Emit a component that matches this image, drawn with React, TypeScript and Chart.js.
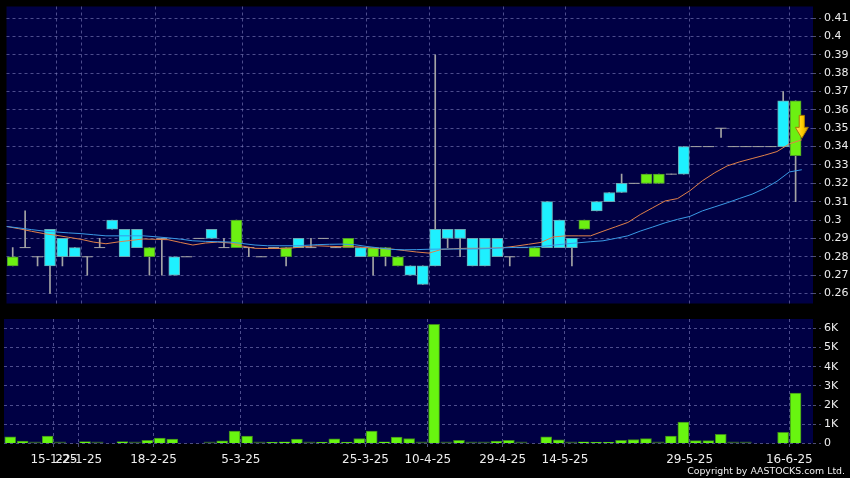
import React, { useEffect, useRef } from 'react';
import { Chart, registerables } from 'chart.js';

Chart.register(...registerables);

// ---- data (one entry per traded day, left to right) ----
const openPrices = [
  0.28, 0.285, 0.28, 0.275, 0.28, 0.28, 0.28, 0.285, 0.295, 0.28,
  0.285, 0.285, 0.29, 0.27, 0.28, 0.29, 0.29, 0.285, 0.3, 0.285,
  0.28, 0.285, 0.285, 0.285, 0.285, 0.29, 0.285, 0.29, 0.28, 0.285,
  0.285, 0.28, 0.27, 0.265, 0.275, 0.29, 0.29, 0.275, 0.275, 0.28,
  0.28, 0.285, 0.285, 0.285, 0.285, 0.285, 0.3, 0.305, 0.31, 0.315,
  0.32, 0.325, 0.325, 0.325, 0.325, 0.34, 0.34, 0.35, 0.34, 0.34,
  0.34, 0.34, 0.34, 0.365,
];
const closePrices = [
  0.275, 0.285, 0.28, 0.295, 0.29, 0.285, 0.28, 0.285, 0.3, 0.295,
  0.295, 0.28, 0.29, 0.28, 0.28, 0.29, 0.295, 0.285, 0.285, 0.285,
  0.28, 0.285, 0.28, 0.29, 0.285, 0.29, 0.285, 0.285, 0.285, 0.28,
  0.28, 0.275, 0.275, 0.275, 0.295, 0.295, 0.295, 0.29, 0.29, 0.29,
  0.28, 0.285, 0.28, 0.31, 0.3, 0.29, 0.295, 0.31, 0.315, 0.32,
  0.32, 0.32, 0.32, 0.325, 0.34, 0.34, 0.34, 0.35, 0.34, 0.34,
  0.34, 0.34, 0.365, 0.335,
];
const highPrices = [
  0.285, 0.305, 0.28, 0.295, 0.29, 0.285, 0.28, 0.29, 0.3, 0.295,
  0.295, 0.285, 0.29, 0.28, 0.28, 0.29, 0.295, 0.29, 0.3, 0.285,
  0.28, 0.285, 0.285, 0.29, 0.29, 0.29, 0.285, 0.29, 0.285, 0.285,
  0.285, 0.28, 0.275, 0.275, 0.39, 0.295, 0.295, 0.29, 0.29, 0.29,
  0.28, 0.285, 0.285, 0.31, 0.3, 0.29, 0.3, 0.31, 0.315, 0.325,
  0.32, 0.325, 0.325, 0.325, 0.34, 0.34, 0.34, 0.35, 0.34, 0.34,
  0.34, 0.34, 0.37, 0.365,
];
const lowPrices = [
  0.275, 0.285, 0.275, 0.26, 0.275, 0.28, 0.27, 0.285, 0.295, 0.28,
  0.285, 0.27, 0.27, 0.27, 0.28, 0.29, 0.29, 0.285, 0.285, 0.28,
  0.28, 0.285, 0.275, 0.285, 0.285, 0.29, 0.285, 0.285, 0.28, 0.27,
  0.275, 0.275, 0.27, 0.265, 0.275, 0.285, 0.28, 0.275, 0.275, 0.28,
  0.275, 0.285, 0.28, 0.285, 0.285, 0.275, 0.295, 0.305, 0.31, 0.315,
  0.32, 0.32, 0.32, 0.325, 0.325, 0.34, 0.34, 0.345, 0.34, 0.34,
  0.34, 0.34, 0.34, 0.31,
];
const volumes = [
  350, 120, 40, 380, 40, 0, 100, 50, 0, 100,
  40, 170, 280, 230, 0, 0, 30, 140, 650, 380,
  40, 60, 90, 230, 30, 70, 240, 70, 260, 650,
  90, 330, 260, 30, 6200, 30, 160, 40, 50, 120,
  160, 40, 0, 350, 190, 30, 90, 60, 60, 170,
  210, 250, 40, 380, 1120, 150, 150, 480, 30, 30,
  0, 0, 580, 2620,
];
// moving averages: first value is the day before the first visible candle,
// the rest one per candle (drawn at the candle's right edge)
const maFast = [
  0.2965, 0.2953, 0.2939, 0.2926, 0.2917, 0.2906, 0.2895, 0.288, 0.2871, 0.2881,
  0.2889, 0.2897, 0.2895, 0.2893, 0.2878, 0.2864, 0.2875, 0.288, 0.2875, 0.2858,
  0.2846, 0.2845, 0.2845, 0.2848, 0.2855, 0.286, 0.2857, 0.2855, 0.2855, 0.285,
  0.2845, 0.2842, 0.2834, 0.2826, 0.282, 0.284, 0.2844, 0.2846, 0.2846, 0.2847,
  0.285, 0.2858, 0.2868, 0.2878, 0.2908, 0.2914, 0.2914, 0.2914, 0.2939, 0.2963,
  0.2987, 0.303, 0.3067, 0.3104, 0.3117, 0.316, 0.3214, 0.3258, 0.3295, 0.3317,
  0.3335, 0.3353, 0.3373, 0.3415, 0.3437,
];
const maSlow = [
  0.2965, 0.2957, 0.2948, 0.294, 0.2935, 0.293, 0.2926, 0.292, 0.2914, 0.2914,
  0.2914, 0.2914, 0.2909, 0.2903, 0.2896, 0.2887, 0.2884, 0.2882, 0.288, 0.2872,
  0.2864, 0.286, 0.286, 0.286, 0.2862, 0.2866, 0.2868, 0.2869, 0.2866, 0.2856,
  0.2848, 0.284, 0.2838, 0.2839, 0.2841, 0.2842, 0.2842, 0.2842, 0.2843, 0.2845,
  0.2849, 0.2851, 0.2852, 0.2856, 0.2863, 0.287, 0.2876, 0.2882, 0.2887, 0.29,
  0.2914, 0.294, 0.2962, 0.2985, 0.3004, 0.302, 0.305, 0.3072, 0.3094, 0.3118,
  0.3141, 0.3172, 0.3211, 0.3262, 0.3274,
];
const dateTickPositions = [3.5, 5.5, 11.5, 18.5, 28.5, 33.5, 39.5, 44.5, 54.5, 62.5];
const dateTickLabels = ['15-1-25', '22-1-25', '18-2-25', '5-3-25', '25-3-25', '10-4-25', '29-4-25', '14-5-25', '29-5-25', '16-6-25'];
const priceTicks = [0.26, 0.27, 0.28, 0.29, 0.3, 0.31, 0.32, 0.33, 0.34, 0.35, 0.36, 0.37, 0.38, 0.39, 0.4, 0.41];
const volumeTicks = [0, 1000, 2000, 3000, 4000, 5000, 6000];
const alertArrowPrices = [0.357, 0.3445]; // top, tip

// ---- styles ----
const NAVY = '#000044';
const GRID = 'rgba(125,125,185,0.62)';
const TEXT = '#eeeeee';
const CYAN = '#1ef0ff';
const CYAN_EDGE = '#6aaab4';
const GREEN = '#6cf012';
const GREEN_EDGE = '#4f9a2a';
const WICK = '#a4a4a4';

const X_MIN = -0.5;
const X_MAX = 64.4;

const plotBg = {
  id: 'plotBg',
  beforeDraw(chart: any) {
    const { ctx, chartArea: a, width, height } = chart;
    ctx.save();
    ctx.fillStyle = '#000';
    ctx.fillRect(0, 0, width, height);
    ctx.fillStyle = NAVY;
    ctx.fillRect(a.left, a.top, a.right - a.left, a.bottom - a.top);
    ctx.restore();
  },
};

const arrowPlugin = {
  id: 'alertArrow',
  afterDatasetsDraw(chart: any) {
    const { ctx } = chart;
    const xs = chart.scales.x;
    const ys = chart.scales.y;
    const x = xs.getPixelForValue(openPrices.length - 0.5);
    const yT = ys.getPixelForValue(alertArrowPrices[0]);
    const yP = ys.getPixelForValue(alertArrowPrices[1]);
    const neck = yT + (yP - yT) * 0.52;
    ctx.save();
    ctx.beginPath();
    ctx.moveTo(x - 2.6, yT);
    ctx.lineTo(x + 2.6, yT);
    ctx.lineTo(x + 2.6, neck);
    ctx.lineTo(x + 6.5, neck);
    ctx.lineTo(x, yP);
    ctx.lineTo(x - 6.5, neck);
    ctx.lineTo(x - 2.6, neck);
    ctx.closePath();
    const g = ctx.createLinearGradient(x - 6, 0, x + 6, 0);
    g.addColorStop(0, '#ffe066');
    g.addColorStop(0.5, '#ffd000');
    g.addColorStop(1, '#d9a300');
    ctx.fillStyle = g;
    ctx.fill();
    ctx.strokeStyle = '#a77a00';
    ctx.lineWidth = 1;
    ctx.stroke();
    ctx.restore();
  },
};

function xScale(showLabels: boolean) {
  return {
    type: 'linear',
    min: X_MIN,
    max: X_MAX,
    offset: false,
    afterBuildTicks: (s: any) => {
      s.ticks = dateTickPositions.map((v) => ({ value: v }));
    },
    afterFit: (s: any) => {
      s.paddingLeft = 0;
      s.paddingRight = 0;
      s.height = showLabels ? 34.5 : 0;
    },
    ticks: {
      display: showLabels,
      autoSkip: false,
      maxRotation: 0,
      minRotation: 0,
      padding: 3,
      color: TEXT,
      font: { family: 'DejaVu Sans', size: 12 },
      callback: (_v: any, i: number) => dateTickLabels[i],
    },
    grid: {
      offset: false,
      color: GRID,
      lineWidth: 1,
      drawTicks: showLabels,
      tickLength: 6,
      tickColor: GRID,
      tickBorderDash: [3, 3],
    },
    border: { display: false, dash: [3, 3] },
  };
}

function yScale(min: number, max: number, ticks: number[], fmt: (v: number) => string) {
  return {
    type: 'linear',
    position: 'right',
    min,
    max,
    beginAtZero: false,
    afterBuildTicks: (s: any) => {
      s.ticks = ticks.map((v) => ({ value: v }));
    },
    afterFit: (s: any) => {
      s.width = 37;
      s.paddingTop = 0;
      s.paddingBottom = 0;
    },
    ticks: {
      padding: 3,
      color: TEXT,
      font: { family: 'DejaVu Sans', size: 11 },
      callback: (v: any) => fmt(Number(v)),
    },
    grid: {
      color: GRID,
      lineWidth: 1,
      tickLength: 8,
      tickColor: GRID,
      tickBorderDash: [3, 3],
    },
    border: { display: false, dash: [3, 3] },
  };
}

export default function App() {
  const topRef = useRef<HTMLCanvasElement>(null);
  const volRef = useRef<HTMLCanvasElement>(null);

  useEffect(() => {
    const idx = openPrices.map((_, i) => i);
    const bodies = idx
      .filter((i) => openPrices[i] !== closePrices[i])
      .map((i) => ({ x: i, y: [openPrices[i], closePrices[i]] }));
    const dojis = idx
      .filter((i) => openPrices[i] === closePrices[i])
      .map((i) => ({ x: i, y: openPrices[i] }));
    const wicks = idx.map((i) => ({ x: i, y: [lowPrices[i], highPrices[i]] }));
    const maF = maFast.map((v, k) => ({ x: k - 0.5, y: v }));
    const maS = maSlow.map((v, k) => ({ x: k - 0.5, y: v }));
    const vols = idx.filter((i) => volumes[i] > 0).map((i) => ({ x: i, y: volumes[i] }));

    const isUp = (c: any) => {
      const r = c.raw && c.raw.y;
      return r && r[1] > r[0];
    };

    const top = new Chart(topRef.current as HTMLCanvasElement, {
      type: 'bar',
      data: {
        datasets: [
          {
            type: 'line',
            data: maS,
            borderColor: '#3a9ae6',
            borderWidth: 1,
            pointRadius: 0,
            order: 0,
          } as any,
          {
            type: 'line',
            data: maF,
            borderColor: '#e0804a',
            borderWidth: 1,
            pointRadius: 0,
            order: 1,
          } as any,
          {
            type: 'line',
            data: dojis,
            showLine: false,
            pointStyle: 'line',
            pointRadius: 5.5,
            pointBorderWidth: 1,
            pointBorderColor: WICK,
            pointBackgroundColor: WICK,
            order: 2,
          } as any,
          {
            type: 'bar',
            data: bodies,
            grouped: false,
            barThickness: 11,
            borderWidth: 1,
            borderSkipped: false,
            backgroundColor: (c: any) => (isUp(c) ? CYAN : GREEN),
            borderColor: (c: any) => (isUp(c) ? CYAN_EDGE : GREEN_EDGE),
            order: 3,
          } as any,
          {
            type: 'bar',
            data: wicks,
            grouped: false,
            barThickness: 1,
            borderWidth: 0,
            backgroundColor: WICK,
            order: 4,
          } as any,
        ],
      },
      options: {
        animation: false,
        responsive: false,
        devicePixelRatio: 1,
        events: [],
        layout: { padding: { left: 4, top: 5, right: 0, bottom: 5 } },
        plugins: { legend: { display: false }, tooltip: { enabled: false } },
        scales: {
          x: xScale(false) as any,
          y: yScale(0.25455, 0.41631, priceTicks, (v) => String(Number(v.toFixed(2)))) as any,
        },
      },
      plugins: [plotBg, arrowPlugin],
    });

    const vol = new Chart(volRef.current as HTMLCanvasElement, {
      type: 'bar',
      data: {
        datasets: [
          {
            data: vols,
            grouped: false,
            barThickness: 11,
            minBarLength: 1.5,
            borderWidth: (c: any) => (c.raw && c.raw.y < 55 ? 0 : 1),
            borderSkipped: 'bottom',
            backgroundColor: (c: any) => (c.raw && c.raw.y < 55 ? '#2f5a2c' : '#68f510'),
            borderColor: '#3f8a1c',
          } as any,
        ],
      },
      options: {
        animation: false,
        responsive: false,
        devicePixelRatio: 1,
        events: [],
        layout: { padding: { left: 4, top: 9, right: 0, bottom: 0 } },
        plugins: { legend: { display: false }, tooltip: { enabled: false } },
        scales: {
          x: xScale(true) as any,
          y: yScale(0, 6484, volumeTicks, (v) => (v === 0 ? '0' : v / 1000 + 'K')) as any,
        },
      },
      plugins: [plotBg],
    });

    return () => {
      top.destroy();
      vol.destroy();
    };
  }, []);

  return (
    <div
      style={{
        position: 'absolute',
        left: 0,
        top: 0,
        width: 850,
        height: 478,
        background: '#000',
        overflow: 'hidden',
      }}
    >
      <canvas ref={topRef} width={850} height={310} style={{ position: 'absolute', left: 0, top: 0 }} />
      <canvas ref={volRef} width={850} height={168} style={{ position: 'absolute', left: 0, top: 310 }} />
      <div
        style={{
          position: 'absolute',
          right: 5,
          top: 465,
          color: TEXT,
          fontFamily: '"DejaVu Sans"',
          fontSize: '9.4px',
          lineHeight: '11px',
          whiteSpace: 'nowrap',
        }}
      >
        Copyright by AASTOCKS.com Ltd.
      </div>
    </div>
  );
}
